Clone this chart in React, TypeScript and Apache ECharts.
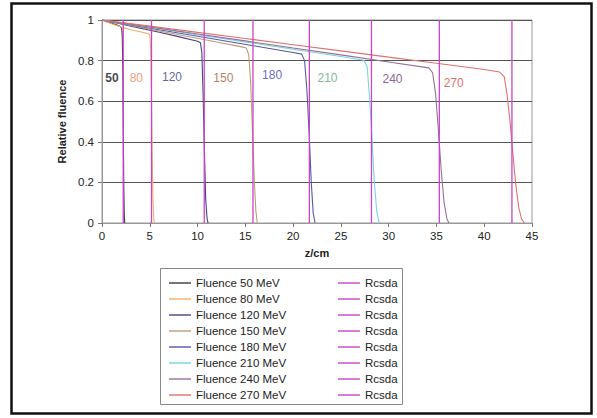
import React, { useEffect, useRef } from "react";
import * as echarts from "echarts";

const energies = ["50", "80", "120", "150", "180", "210", "240", "270"];
const fluenceNames = energies.map((e) => `Fluence ${e} MeV`);
const rcsdaNames = energies.map((e, i) => `Rcsda ${i + 1}`);
const rcsdaRanges = [2.22, 5.18, 10.7, 15.8, 21.7, 28.2, 35.3, 42.9];

const f50 = [[0, 1], [0.5, 0.992], [1, 0.984], [1.5, 0.976], [1.9, 0.968], [2.05, 0.962], [2.12, 0.92], [2.18, 0.75], [2.23, 0.45], [2.28, 0.18], [2.33, 0.04], [2.38, 0]];
const f80 = [[0, 1], [1, 0.982], [2, 0.965], [3, 0.952], [4, 0.942], [4.8, 0.933], [5.0, 0.925], [5.1, 0.86], [5.18, 0.62], [5.25, 0.35], [5.33, 0.12], [5.42, 0.02], [5.5, 0]];
const f120 = [[0, 1], [2, 0.98], [4, 0.96], [6, 0.94], [8, 0.918], [10, 0.895], [10.3, 0.888], [10.45, 0.84], [10.6, 0.6], [10.72, 0.35], [10.85, 0.12], [11, 0.02], [11.1, 0]];
const f150 = [[0, 1], [3, 0.973], [6, 0.946], [9, 0.919], [12, 0.892], [14.5, 0.869], [15.1, 0.862], [15.35, 0.83], [15.55, 0.7], [15.75, 0.45], [15.95, 0.2], [16.1, 0.06], [16.25, 0]];
const f180 = [[0, 1], [4, 0.968], [8, 0.936], [12, 0.904], [16, 0.872], [20, 0.84], [20.9, 0.832], [21.2, 0.8], [21.45, 0.65], [21.7, 0.42], [21.9, 0.2], [22.1, 0.05], [22.3, 0]];
const f210 = [[0, 1], [5, 0.964], [10, 0.928], [15, 0.892], [20, 0.856], [25, 0.82], [27.4, 0.802], [27.75, 0.77], [28.0, 0.62], [28.25, 0.42], [28.5, 0.2], [28.75, 0.06], [29.0, 0]];
const f240 = [[0, 1], [5, 0.966], [10, 0.931], [15, 0.897], [20, 0.862], [25, 0.828], [30, 0.793], [34.2, 0.764], [34.6, 0.74], [34.9, 0.64], [35.2, 0.46], [35.5, 0.26], [35.8, 0.1], [36.1, 0.02], [36.3, 0]];
const f270 = [[0, 1], [5, 0.97], [10, 0.939], [15, 0.909], [20, 0.878], [25, 0.848], [30, 0.817], [35, 0.787], [40, 0.756], [41.6, 0.744], [42.1, 0.72], [42.4, 0.63], [42.7, 0.5], [43.0, 0.34], [43.3, 0.19], [43.6, 0.08], [43.9, 0.02], [44.2, 0]];
const fluenceData = [f50, f80, f120, f150, f180, f210, f240, f270];

const curveColors = ["#3a3a3a", "#f0b070", "#44447e", "#c09a78", "#5858a8", "#78d4e0", "#957095", "#e07070"];
const labelColors = ["#111111", "#e8834e", "#3a3a8c", "#a0603a", "#4040c0", "#5aa878", "#6a3a70", "#d04848"];
const labelPos = [[1.05, 0.714], [3.59, 0.714], [7.33, 0.719], [12.7, 0.714], [17.8, 0.729], [23.6, 0.714], [30.4, 0.709], [36.8, 0.69]];

const xTicks = { min: 0, max: 45, interval: 5 };
const yTicks = { min: 0, max: 1, interval: 0.2 };

const FONT = "'Liberation Sans', Arial, sans-serif";
const RCSDA_COLOR = "#c844c8";

export default function App() {
  const ref = useRef<HTMLDivElement>(null);
  useEffect(() => {
    if (!ref.current) return;
    document.body.style.margin = "0";
    const chart = echarts.init(ref.current, undefined, { renderer: "svg" });
    const series: any[] = [];
    fluenceData.forEach((d, i) => {
      series.push({
        type: "line",
        name: fluenceNames[i],
        data: d,
        symbol: "none",
        lineStyle: { color: curveColors[i], width: 1.1 },
        itemStyle: { color: curveColors[i] },
        z: 2,
      });
    });
    rcsdaRanges.forEach((r, i) => {
      series.push({
        type: "line",
        name: rcsdaNames[i],
        data: [[r, 0], [r, 1]],
        symbol: "none",
        lineStyle: { color: RCSDA_COLOR, width: 1.3 },
        itemStyle: { color: RCSDA_COLOR },
        z: 3,
      });
    });
    series.push({
      type: "scatter",
      name: "labels",
      symbolSize: 0,
      silent: true,
      z: 5,
      data: energies.map((e, i) => ({
        name: e,
        value: labelPos[i],
        label: { color: labelColors[i], fontWeight: i === 0 ? "bold" : "normal" },
      })),
      label: { show: true, position: "inside", formatter: "{b}", fontSize: 12, fontFamily: FONT },
    });

    const legendCommon = {
      orient: "vertical",
      top: 276,
      padding: 0,
      icon: "rect",
      itemWidth: 22,
      itemHeight: 1.4,
      itemGap: 2,
      textStyle: { fontSize: 11.5, fontFamily: FONT, color: "#222", lineHeight: 14, height: 14 },
    };

    chart.setOption({
      animation: false,
      backgroundColor: "#fff",
      textStyle: { fontFamily: FONT },
      grid: { left: 102, right: 65, top: 20, bottom: 195, show: true, borderColor: "#999", borderWidth: 1 },
      xAxis: {
        type: "value",
        min: xTicks.min,
        max: xTicks.max,
        interval: xTicks.interval,
        name: "z/cm",
        nameLocation: "middle",
        nameGap: 24,
        nameTextStyle: { fontSize: 11, fontWeight: "bold", color: "#222", fontFamily: FONT },
        axisLine: { lineStyle: { color: "#999" } },
        axisTick: { show: true, length: 4, lineStyle: { color: "#777" } },
        axisLabel: { fontSize: 11.5, color: "#222", margin: 7, fontFamily: FONT },
        splitLine: { show: false },
      },
      yAxis: {
        type: "value",
        min: yTicks.min,
        max: yTicks.max,
        interval: yTicks.interval,
        name: "Relative fluence",
        nameLocation: "middle",
        nameGap: 31,
        nameTextStyle: { fontSize: 11, fontWeight: "bold", color: "#222", fontFamily: FONT },
        axisLine: { show: true, lineStyle: { color: "#999" } },
        axisTick: { show: true, length: 4, lineStyle: { color: "#777" } },
        axisLabel: { fontSize: 11.5, color: "#222", margin: 8, fontFamily: FONT },
        splitLine: { show: true, lineStyle: { color: "#555", width: 1 } },
      },
      legend: [
        { ...legendCommon, left: 169, data: fluenceNames },
        { ...legendCommon, left: 338, data: rcsdaNames, formatter: () => "Rcsda" },
      ],
      graphic: [
        {
          type: "rect",
          shape: { x: 160.5, y: 268.5, width: 242, height: 136 },
          style: { fill: "none", stroke: "#888", lineWidth: 1 },
          silent: true,
        },
        {
          type: "rect",
          shape: { x: 11.5, y: 3.5, width: 580, height: 410 },
          style: { fill: "none", stroke: "#111", lineWidth: 2.5 },
          silent: true,
        },
      ],
      series,
    });
    return () => chart.dispose();
  }, []);
  return <div ref={ref} style={{ width: 597, height: 418 }} />;
}
